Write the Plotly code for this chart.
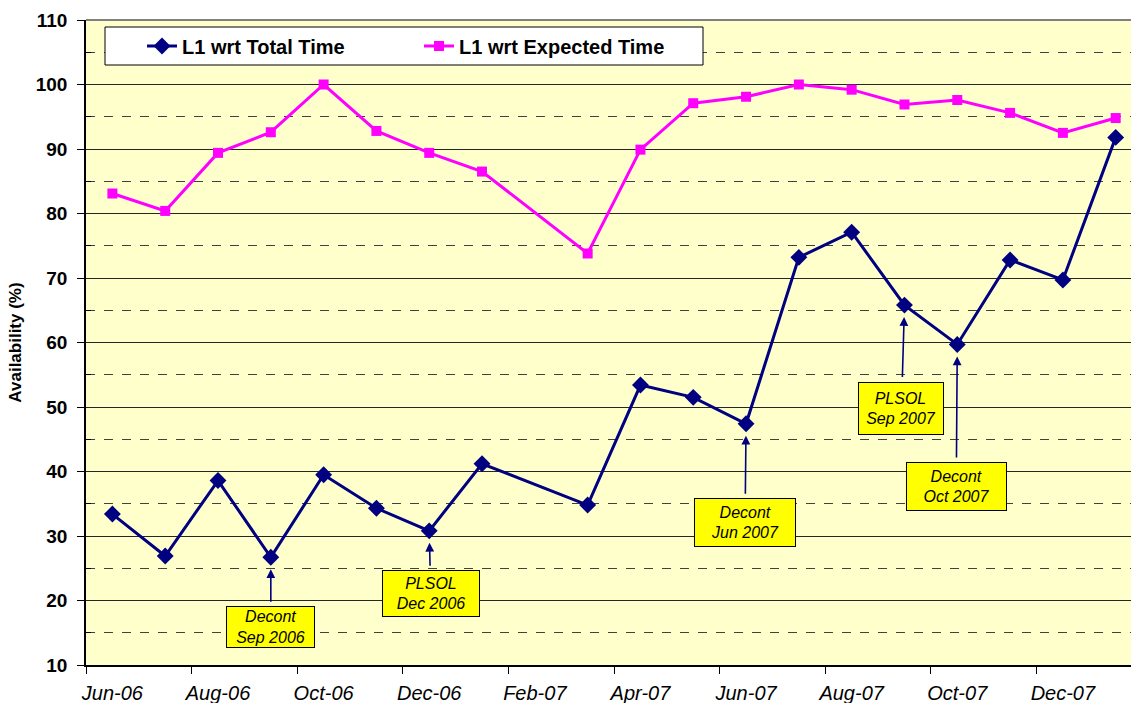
import plotly.graph_objects as go
import pandas as pd

# ---------------- data ----------------
months = ["2006-06", "2006-07", "2006-08", "2006-09", "2006-10", "2006-11", "2006-12",
          "2007-01", "2007-03", "2007-04", "2007-05", "2007-06", "2007-07", "2007-08",
          "2007-09", "2007-10", "2007-11", "2007-12", "2008-01"]
total_time = [33.4, 26.9, 38.6, 26.7, 39.5, 34.3, 30.8, 41.2, 34.8, 53.4,
              51.5, 47.4, 73.2, 77.1, 65.8, 59.7, 72.8, 69.7, 91.8]
expected_time = [83.1, 80.4, 89.4, 92.6, 100.0, 92.8, 89.4, 86.5, 73.8, 89.9,
                 97.1, 98.1, 100.0, 99.2, 96.9, 97.6, 95.6, 92.5, 94.8]
tick_labels = ["Jun-06", "Aug-06", "Oct-06", "Dec-06", "Feb-07", "Apr-07",
               "Jun-07", "Aug-07", "Oct-07", "Dec-07"]
series_names = ["L1 wrt Total Time", "L1 wrt Expected Time"]

callout_months = ["2006-09", "2006-12", "2007-06", "2007-09", "2007-10"]
callout_texts = ["Decont<br>Sep 2006", "PLSOL<br>Dec 2006", "Decont<br>Jun 2007",
                 "PLSOL<br>Sep 2007", "Decont<br>Oct 2007"]

# month index relative to Jun-06 (each month an equal slot, like Excel)
start = pd.Period("2006-06", freq="M")
def midx(m):
    return (pd.Period(m, freq="M") - start).n

x_idx = [midx(m) for m in months]
tick_vals = [2 * i for i in range(len(tick_labels))]

FONT = "Liberation Sans, Arial, sans-serif"
NAVY = "#000080"
MAGENTA = "#FF00FF"

fig = go.Figure()
fig.add_trace(go.Scatter(
    x=x_idx, y=total_time, name=series_names[0], mode="lines+markers",
    line=dict(color=NAVY, width=3),
    marker=dict(symbol="diamond", size=13, color=NAVY),
    legend="legend", showlegend=True, hoverinfo="skip"))
fig.add_trace(go.Scatter(
    x=x_idx, y=expected_time, name=series_names[1], mode="lines+markers",
    line=dict(color=MAGENTA, width=3),
    marker=dict(symbol="square", size=10, color=MAGENTA),
    legend="legend2", showlegend=True, hoverinfo="skip"))

W, H = 1131, 703
L, T, B = 86, 20, 38
plot_w = W - L
plot_h = H - T - B

def px_x(p):
    return (p - L) / plot_w

def px_y(p):
    return (H - B - p) / plot_h

# callout boxes: (box offset x, box offset y, box w, box h) in px
box_dims = [(0, 70, 89, 42), (1.5, 63, 98, 47), (-1, 99, 102, 49),
            (-3, 103, 86, 53), (-1, 142, 101, 49)]
for m, txt, (axo, ayo, bw, bh) in zip(callout_months, callout_texts, box_dims):
    i = months.index(m)
    fig.add_annotation(
        x=x_idx[i], y=total_time[i], xref="x", yref="y",
        ax=axo, ay=ayo, axref="pixel", ayref="pixel",
        text=txt, showarrow=True, arrowhead=2, arrowsize=1.1, arrowwidth=1.6,
        arrowcolor=NAVY, standoff=12, startstandoff=5,
        bgcolor="#FFFF00", bordercolor="#000000", borderwidth=1, borderpad=0,
        width=bw - 2, height=bh - 2,
        font=dict(family=FONT, size=16, color="#000000", style="italic"),
        align="center", valign="middle")

# legend box
fig.add_shape(type="rect", xref="paper", yref="paper",
              x0=px_x(105), x1=px_x(703), y0=px_y(65), y1=px_y(27),
              fillcolor="#FFFFFF", line=dict(color="#000000", width=1), layer="above")
# top border
fig.add_shape(type="line", xref="paper", yref="paper", x0=0, x1=1, y0=1, y1=1,
              line=dict(color="#808080", width=2), layer="above")

legend_font = dict(family=FONT, size=20, color="#000000", weight="bold")
fig.update_layout(
    width=W, height=H, showlegend=True,
    margin=dict(l=L, r=0, t=T, b=B, pad=0, autoexpand=False),
    paper_bgcolor="#FFFFFF", plot_bgcolor="#FFFFCC",
    font=dict(family=FONT, color="#000000"),
    legend=dict(x=px_x(142), y=px_y(46), xanchor="left", yanchor="middle",
                bgcolor="rgba(0,0,0,0)", borderwidth=0, font=legend_font),
    legend2=dict(x=px_x(419), y=px_y(46), xanchor="left", yanchor="middle",
                 bgcolor="rgba(0,0,0,0)", borderwidth=0, font=legend_font),
    xaxis=dict(
        range=[-0.5, 19.29], tickvals=tick_vals, ticktext=tick_labels,
        ticks="", showgrid=False, zeroline=False, automargin=False,
        showline=True, linecolor="#000000", linewidth=1.5,
        tickfont=dict(family=FONT, size=20, color="#000000", style="italic"),
        ticklabelstandoff=9,
        minor=dict(tick0=-0.5, dtick=2, ticks="outside", ticklen=7,
                   tickcolor="#000000", tickwidth=1, showgrid=False),
    ),
    yaxis=dict(
        range=[10, 110], dtick=10, tick0=10, automargin=False,
        ticks="outside", ticklen=7, tickcolor="#000000", tickwidth=1,
        showgrid=True, gridcolor="#262626", gridwidth=1,
        zeroline=False, showline=True, linecolor="#000000", linewidth=1.5,
        tickfont=dict(family=FONT, size=19, color="#000000", weight="bold"),
        ticklabelstandoff=6,
        title=dict(text="Availability (%)", standoff=10,
                   font=dict(family=FONT, size=17, color="#000000", weight="bold")),
        minor=dict(tick0=15, dtick=10, ticks="inside", ticklen=5, tickcolor="#000000",
                   showgrid=True, gridcolor="#404040", griddash="dash", gridwidth=1),
    ),
)

fig.write_html("out.html", config={"displayModeBar": False},
               post_script="document.body.style.margin='0px';document.body.style.overflow='hidden';")
